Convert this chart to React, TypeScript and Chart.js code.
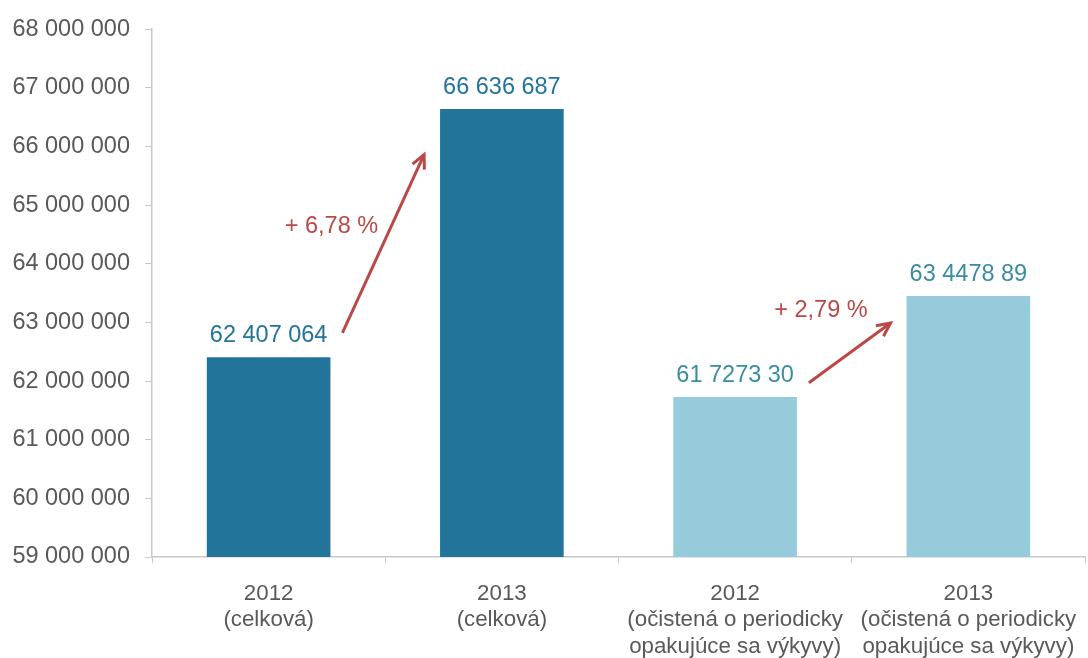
import React, { useEffect, useRef } from "react";
import { Chart, registerables } from "chart.js";

Chart.register(...registerables);

const categories: string[][] = [
  ["2012", "(celková)"],
  ["2013", "(celková)"],
  ["2012", "(očistená o periodicky", "opakujúce sa výkyvy)"],
  ["2013", "(očistená o periodicky", "opakujúce sa výkyvy)"],
];
const values: number[] = [62407064, 66636687, 61727330, 63447889];
const valueLabels: string[] = ["62 407 064", "66 636 687", "61 7273 30", "63 4478 89"];
const barColors: string[] = ["#22749A", "#22749A", "#95CBDA", "#95CBDA"];
const labelColors: string[] = ["#22749A", "#22749A", "#3A8CA2", "#3A8CA2"];

// growth arrows: from bar index -> to bar index, value at start and end of arrow
const arrowFromBar: number[] = [0, 2];
const arrowToBar: number[] = [1, 3];
const arrowStartValues: number[] = [62820000, 61970000];
const arrowEndValues: number[] = [65860000, 62990000];
const arrowTexts: string[] = ["+ 6,78 %", "+ 2,79 %"];
const arrowTextValues: number[] = [64640000, 63200000];

const yMin = 59000000;
const yMax = 68000000;
const yStep = 1000000;

const FONT = "'Liberation Sans', Arial, sans-serif";
const FS = 23.5;
const FSX = 22.3;

function fmt(v: number): string {
  return String(Math.round(v)).replace(/\B(?=(\d{3})+(?!\d))/g, " ");
}

const overlayPlugin = {
  id: "overlay",
  afterDatasetsDraw(chart: any) {
    const ctx = chart.ctx;
    const meta = chart.getDatasetMeta(0);
    const y = chart.scales.y;
    ctx.save();
    ctx.font = `${FS}px ${FONT}`;
    ctx.textAlign = "center";
    ctx.textBaseline = "alphabetic";
    meta.data.forEach((bar: any, i: number) => {
      ctx.fillStyle = labelColors[i];
      ctx.fillText(valueLabels[i], bar.x, bar.y - 15);
    });
    const red = "#BA4845";
    arrowFromBar.forEach((fi, k) => {
      const b0 = meta.data[fi];
      const b1 = meta.data[arrowToBar[k]];
      const x0 = b0.x + b0.width / 2 + 12;
      const x1 = b1.x - b1.width / 2 - 16;
      const y0 = y.getPixelForValue(arrowStartValues[k]);
      const y1 = y.getPixelForValue(arrowEndValues[k]);
      ctx.strokeStyle = red;
      ctx.lineWidth = 3;
      ctx.lineCap = "butt";
      ctx.beginPath();
      ctx.moveTo(x0, y0);
      ctx.lineTo(x1, y1);
      ctx.stroke();
      const ang = Math.atan2(y1 - y0, x1 - x0);
      const hl = 15;
      const ha = 0.45;
      ctx.beginPath();
      ctx.moveTo(x1 - hl * Math.cos(ang - ha), y1 - hl * Math.sin(ang - ha));
      ctx.lineTo(x1, y1);
      ctx.lineTo(x1 - hl * Math.cos(ang + ha), y1 - hl * Math.sin(ang + ha));
      ctx.stroke();
      ctx.fillStyle = red;
      ctx.textBaseline = "middle";
      const tx = k === 0 ? b0.x + b0.width / 2 + 1 : b0.x + b0.width / 2 + 24;
      ctx.fillText(arrowTexts[k], tx, y.getPixelForValue(arrowTextValues[k]));
      ctx.textBaseline = "alphabetic";
    });
    ctx.restore();
  },
};

export default function App() {
  const ref = useRef<HTMLCanvasElement | null>(null);
  useEffect(() => {
    document.body.style.margin = "0";
    const chart = new Chart(ref.current as HTMLCanvasElement, {
      type: "bar",
      data: {
        labels: categories,
        datasets: [
          {
            data: values,
            backgroundColor: barColors,
            barPercentage: 0.53,
            categoryPercentage: 1,
          },
        ],
      },
      options: {
        animation: false,
        responsive: true,
        maintainAspectRatio: false,
        layout: { padding: { left: 12, top: 15, right: 3, bottom: 0 } },
        plugins: {
          legend: { display: false },
          tooltip: { enabled: false },
        },
        scales: {
          x: {
            offset: true,
            afterFit: (s: any) => {
              s.height = 101;
              s.paddingLeft = 0;
              s.paddingRight = 0;
            },
            grid: {
              drawOnChartArea: false,
              drawTicks: true,
              tickLength: 6,
              color: "#C8C8C8",
              offset: true,
            },
            border: { color: "#C8C8C8", width: 1.5 },
            ticks: {
              color: "#595959",
              font: { family: FONT, size: FSX, lineHeight: 1.2 },
              padding: 17,
              maxRotation: 0,
              autoSkip: false,
            },
          },
          y: {
            min: yMin,
            max: yMax,
            afterFit: (s: any) => {
              s.width = 140;
            },
            grid: {
              drawOnChartArea: false,
              drawTicks: true,
              tickLength: 7,
              color: "#C8C8C8",
            },
            border: { color: "#C8C8C8", width: 1.5 },
            ticks: {
              stepSize: yStep,
              color: "#595959",
              font: { family: FONT, size: FS },
              padding: 15,
              callback: (v: any) => fmt(Number(v)),
            },
          },
        },
      },
      plugins: [overlayPlugin],
    } as any);
    return () => chart.destroy();
  }, []);
  return (
    <div style={{ position: "absolute", left: 0, top: 0, width: 1088, height: 658 }}>
      <canvas ref={ref} />
    </div>
  );
}
